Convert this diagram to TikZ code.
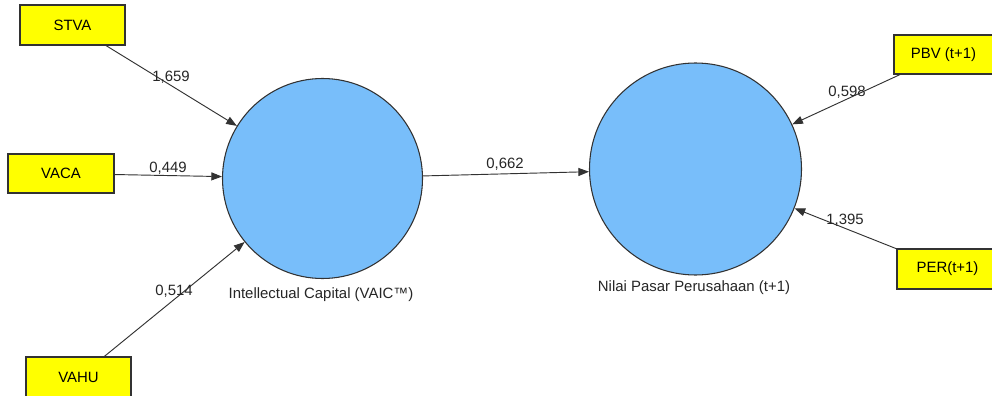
\documentclass[tikz,border=0pt]{standalone}
\usepackage{fontspec}
\setmainfont{Liberation Sans}
\usetikzlibrary{arrows.meta}
\definecolor{indbox}{RGB}{255,255,0}
\definecolor{latent}{RGB}{120,190,250}
\definecolor{edge}{RGB}{50,50,50}
\tikzset{
  indicator/.style={draw=edge, line width=0.8pt, fill=indbox, inner sep=0pt,
    font=\fontsize{11.2}{12}\selectfont},
  construct/.style={circle, draw=edge, line width=0.8pt, fill=latent, inner sep=0pt},
  path arrow/.style={draw=edge, line width=0.7pt, -{Triangle[length=8pt,width=6pt]}},
  weight/.style={font=\fontsize{11.2}{12}\selectfont, inner sep=0pt, text=black!85},
  caption/.style={font=\fontsize{11.2}{12}\selectfont, inner sep=0pt, text=black!85}
}
\begin{document}
\begin{tikzpicture}[x=0.75pt, y=-0.75pt]
  \useasboundingbox (0,0) rectangle (992,396);
  \clip (0,0) rectangle (992,396);
  \fill[white] (0,0) rectangle (992,396);

  % latent constructs
  \node[construct, minimum size=150pt] (ic) at (322.5,178.5) {};
  \node[construct, minimum size=159pt] (np) at (695.5,169) {};
  \node[caption] (icname) at (321,295) {Intellectual Capital (VAIC™)};
  \node[caption] (npname) at (694,288) {Nilai Pasar Perusahaan (t+1)};

  % indicators
  \node[indicator, minimum width=78.75pt, minimum height=30pt] (stva) at (72.5,25) {STVA};
  \node[indicator, minimum width=79.5pt, minimum height=29.25pt] (vaca) at (61,173.5) {VACA};
  \node[indicator, minimum width=78.75pt, minimum height=30.75pt] (vahu) at (78.5,377.5) {VAHU};
  \node[indicator, minimum width=74.25pt, minimum height=29.25pt] (pbv) at (943.5,54.5) {PBV (t+1)};
  \node[indicator, minimum width=75.75pt, minimum height=30pt] (per) at (947.5,269) {PER(t+1)};

  % paths
  \draw[path arrow] (stva) -- (ic);
  \draw[path arrow] (vaca) -- (ic);
  \draw[path arrow] (vahu) -- (ic);
  \draw[path arrow] (ic) -- (np);
  \draw[path arrow] (pbv) -- (np);
  \draw[path arrow] (per) -- (np);

  % path weights
  \node[weight] (w1) at (171,77) {1,659};
  \node[weight] (w2) at (168,168) {0,449};
  \node[weight] (w3) at (174,291) {0,514};
  \node[weight] (w4) at (505,164) {0,662};
  \node[weight] (w5) at (847,92) {0,598};
  \node[weight] (w6) at (845,220) {1,395};
\end{tikzpicture}
\end{document}
